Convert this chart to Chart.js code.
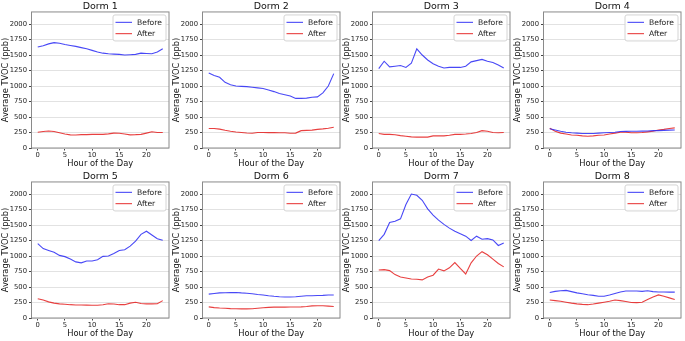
<!DOCTYPE html>
<html>
<head>
<meta charset="utf-8">
<script src="https://cdn.jsdelivr.net/npm/chart.js@4/dist/chart.umd.min.js"></script>
<style>
  body { margin: 0; background: #fff; }
  #wrap { position: relative; width: 685px; height: 341px; overflow: hidden; }
  .panel { position: absolute; }
</style>
</head>
<body>
<div id="wrap"></div>
<script>
var hours = [0,1,2,3,4,5,6,7,8,9,10,11,12,13,14,15,16,17,18,19,20,21,22,23];
var xTicks = [0, 5, 10, 15, 20];
var yTicks = [0, 250, 500, 750, 1000, 1250, 1500, 1750, 2000];
var dormNames = ["Dorm 1", "Dorm 2", "Dorm 3", "Dorm 4", "Dorm 5", "Dorm 6", "Dorm 7", "Dorm 8"];

var dorm1Before = [1630,1650,1680,1700,1690,1670,1655,1640,1620,1600,1575,1550,1530,1520,1515,1510,1500,1505,1510,1530,1525,1520,1550,1600];
var dorm1After  = [255,265,275,265,245,225,212,210,215,215,220,222,220,228,240,238,225,212,215,220,240,262,250,250];
var dorm2Before = [1210,1170,1140,1060,1020,1000,995,990,980,970,960,935,910,880,860,840,800,800,805,820,825,890,1000,1200];
var dorm2After  = [315,315,305,285,270,258,250,242,238,250,250,248,248,245,245,238,240,280,285,288,300,308,318,335];
var dorm3Before = [1280,1400,1310,1320,1330,1300,1370,1600,1500,1420,1360,1320,1290,1300,1300,1300,1320,1390,1410,1430,1400,1380,1340,1290];
var dorm3After  = [235,220,220,215,200,190,180,175,175,175,195,195,195,205,220,220,225,235,250,280,270,250,245,250];
var dorm4Before = [310,290,270,255,245,240,235,235,235,240,245,250,255,265,268,270,270,272,275,280,280,285,288,290];
var dorm4After  = [320,270,240,225,210,205,195,190,195,205,210,225,240,255,255,245,245,250,260,270,290,300,315,325];
var dorm5Before = [1200,1120,1090,1060,1010,990,950,905,890,920,920,940,995,1000,1040,1090,1100,1160,1240,1350,1400,1340,1280,1255];
var dorm5After  = [310,290,260,240,228,222,215,210,210,208,205,205,215,230,225,215,215,240,255,235,228,228,230,280];
var dorm6Before = [385,395,405,408,410,412,405,400,390,380,372,360,350,342,340,340,342,350,358,360,362,365,370,372];
var dorm6After  = [180,168,162,158,152,150,148,148,150,158,165,172,175,175,175,178,178,180,185,195,198,198,192,185];
var dorm7Before = [1250,1350,1540,1560,1600,1830,2000,1980,1900,1760,1660,1580,1510,1450,1400,1360,1320,1250,1320,1270,1280,1260,1170,1210];
var dorm7After  = [775,780,765,700,660,645,630,625,615,660,690,790,760,810,895,800,710,890,1000,1070,1020,950,880,825];
var dorm8Before = [410,430,440,445,425,405,390,375,365,350,350,370,395,420,435,435,435,430,440,425,420,420,418,418];
var dorm8After  = [290,280,270,255,240,228,220,215,225,240,255,270,290,280,265,250,248,255,300,340,372,350,325,300];

var beforeSeries = [dorm1Before, dorm2Before, dorm3Before, dorm4Before, dorm5Before, dorm6Before, dorm7Before, dorm8Before];
var afterSeries  = [dorm1After, dorm2After, dorm3After, dorm4After, dorm5After, dorm6After, dorm7After, dorm8After];

Chart.defaults.font.family = "'DejaVu Sans', sans-serif";
Chart.defaults.color = "#222";

// frame around the plot area plus a matplotlib-like legend box in the upper right
var framePlugin = {
    id: 'frameLegend',
    afterDatasetsDraw: function(chart) {
        var ctx = chart.ctx, a = chart.chartArea;
        ctx.save();
        ctx.strokeStyle = '#8a8a8a';
        ctx.lineWidth = 1;
        ctx.strokeRect(a.left, a.top, a.right - a.left, a.bottom - a.top);

        var w = 53, h = 26, x = a.right - w - 3, y = a.top + 3;
        ctx.beginPath();
        ctx.roundRect(x, y, w, h, 2);
        ctx.fillStyle = 'rgba(255,255,255,0.9)';
        ctx.fill();
        ctx.strokeStyle = '#d4d4d4';
        ctx.stroke();
        ctx.font = "7.6px 'DejaVu Sans'";
        ctx.textBaseline = 'middle';
        chart.data.datasets.forEach(function(ds, i) {
            var ly = y + 7.4 + i * 11.3;
            ctx.beginPath();
            ctx.moveTo(x + 2.5, ly);
            ctx.lineTo(x + 19, ly);
            ctx.strokeStyle = ds.borderColor;
            ctx.lineWidth = 1.1;
            ctx.stroke();
            ctx.fillStyle = '#222';
            ctx.fillText(ds.label, x + 24, ly + 0.5);
        });
        ctx.restore();
    }
};

var wrap = document.getElementById('wrap');

dormNames.forEach(function(name, k) {
    var col = k % 4, row = Math.floor(k / 4);
    var canvas = document.createElement('canvas');
    canvas.className = 'panel';
    canvas.width = 171;
    canvas.height = 170;
    canvas.style.left = (col * 170.6) + 'px';
    canvas.style.top = (row * 169.5) + 'px';
    wrap.appendChild(canvas);

    var config = {
        type: 'line',
        data: {
            datasets: [
                {
                    label: 'Before',
                    data: hours.map(function(h, i) { return {x: h, y: beforeSeries[k][i]}; }),
                    borderColor: 'rgba(40,40,245,0.85)',
                    borderWidth: 1.1,
                    pointRadius: 0,
                    tension: 0
                },
                {
                    label: 'After',
                    data: hours.map(function(h, i) { return {x: h, y: afterSeries[k][i]}; }),
                    borderColor: 'rgba(228,30,30,0.85)',
                    borderWidth: 1.1,
                    pointRadius: 0,
                    tension: 0
                }
            ]
        },
        options: {
            responsive: false,
            animation: false,
            devicePixelRatio: 1,
            layout: { padding: { left: 0, right: 2, top: 0, bottom: 0 } },
            plugins: {
                legend: { display: false },
                tooltip: { enabled: false },
                title: {
                    display: true,
                    text: name,
                    fullSize: false,
                    font: { size: 9.5, weight: 'normal', lineHeight: 1.1 },
                    padding: { top: 1, bottom: 0.5 },
                    color: '#111'
                }
            },
            scales: {
                x: {
                    type: 'linear',
                    min: -1.15,
                    max: 24.15,
                    afterBuildTicks: function(axis) { axis.ticks = xTicks.map(function(v) { return {value: v}; }); },
                    afterFit: function(axis) { axis.height = 22; },
                    grid: { drawOnChartArea: false, tickColor: '#444', tickLength: 2.5 },
                    border: { display: false },
                    ticks: { font: { size: 6.8 }, padding: 0.5, maxRotation: 0, color: '#222',
                             callback: function(v) { return String(v); } },
                    title: {
                        display: true,
                        text: 'Hour of the Day',
                        font: { size: 8.3, lineHeight: 1.15 },
                        padding: { top: 0, bottom: 1.5 },
                        color: '#111'
                    }
                },
                y: {
                    min: 0,
                    max: 2195,
                    afterBuildTicks: function(axis) { axis.ticks = yTicks.map(function(v) { return {value: v}; }); },
                    afterFit: function(axis) { axis.width = 31.5; },
                    grid: { color: '#e2e2e2', lineWidth: 1, tickColor: '#444', tickLength: 2.5 },
                    border: { display: false },
                    ticks: { font: { size: 6.8 }, padding: 2, color: '#222',
                             callback: function(v) { return String(v); } },
                    title: {
                        display: true,
                        text: 'Average TVOC (ppb)',
                        font: { size: 8.3, lineHeight: 1.15 },
                        padding: { top: 1.2, bottom: 0 },
                        color: '#111'
                    }
                }
            }
        },
        plugins: [framePlugin]
    };

    new Chart(canvas.getContext('2d'), config);
});
</script>
</body>
</html>
